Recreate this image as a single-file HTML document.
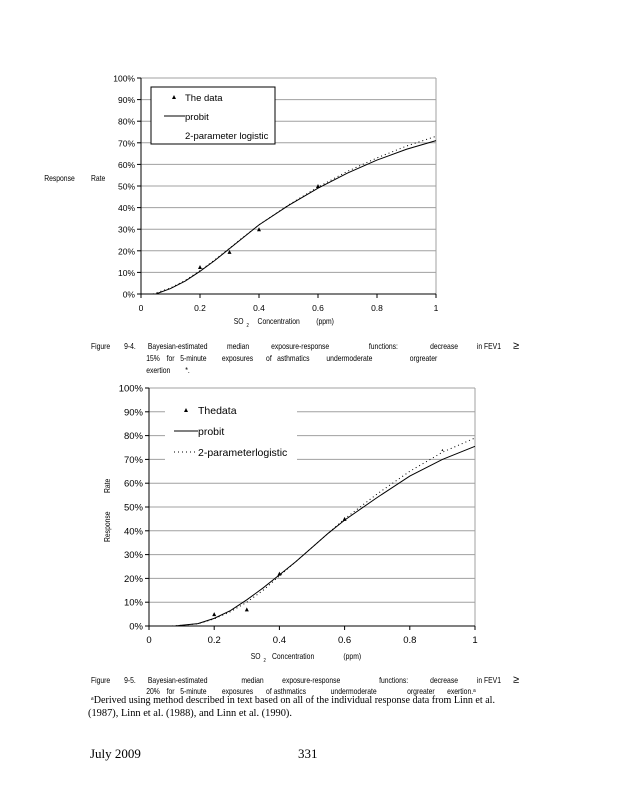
<!DOCTYPE html>
<html><head><meta charset="utf-8"><style>
html,body{margin:0;padding:0;background:#fff;}
svg{display:block;font-family:"Liberation Sans",sans-serif;}
.cap{font-size:8px;font-family:"Liberation Sans",sans-serif;}
.ser{font-family:"Liberation Serif",serif;}
</style></head><body>
<svg id="s" width="618" height="800" viewBox="0 0 618 800" xmlns="http://www.w3.org/2000/svg">
<g class="cap" transform="scale(0.85,1)">
<text x="107" y="349">Figure</text><text x="146" y="349">9-4.</text><text x="174" y="349">Bayesian-estimated</text><text x="267" y="349">median</text><text x="319" y="349">exposure-response</text><text x="434" y="349">functions:</text><text x="506" y="349">decrease</text><text x="561" y="349">in FEV1</text>
<text x="172" y="361">15%</text><text x="196" y="361">for</text><text x="212" y="361">5-minute</text><text x="261" y="361">exposures</text><text x="313" y="361">of</text><text x="326" y="361">asthmatics</text><text x="384" y="361">undermoderate</text><text x="482" y="361">orgreater</text>
<text x="172" y="373">exertion</text><text x="218" y="373">*.</text>
</g>
<text x="513" y="349" font-size="11">≥</text>
<g class="cap" transform="scale(0.85,1)">
<text x="107" y="683">Figure</text><text x="146" y="683">9-5.</text><text x="174" y="683">Bayesian-estimated</text><text x="284" y="683">median</text><text x="332" y="683">exposure-response</text><text x="446" y="683">functions:</text><text x="506" y="683">decrease</text><text x="561" y="683">in FEV1</text>
<text x="172" y="694">20%</text><text x="196" y="694">for</text><text x="212" y="694">5-minute</text><text x="261" y="694">exposures</text><text x="313" y="694">of asthmatics</text><text x="389" y="694">undermoderate</text><text x="479" y="694">orgreater</text><text x="526" y="694">exertion.ᵃ</text>
</g>
<text x="513" y="683" font-size="11">≥</text>
<text class="ser" x="91" y="703" font-size="11" textLength="404" lengthAdjust="spacingAndGlyphs">ᵃDerived using method described in text based on all of the individual response data from Linn et al.</text>
<text class="ser" x="88" y="716" font-size="11" textLength="204" lengthAdjust="spacingAndGlyphs">(1987), Linn et al. (1988), and Linn et al. (1990).</text>
<text class="ser" x="90" y="758" font-size="13">July 2009</text>
<text class="ser" x="298" y="758" font-size="13">331</text>
<g class="cap" transform="scale(0.85,1)">
<text x="52" y="181">Response</text><text x="107" y="181">Rate</text>
<text x="275" y="324">SO</text><text x="290" y="327" font-size="5">2</text><text x="303" y="324">Concentration</text><text x="372" y="324">(ppm)</text>
<text x="295" y="659">SO</text><text x="310" y="662" font-size="5">2</text><text x="320" y="659">Concentration</text><text x="404" y="659">(ppm)</text>
</g>
<text class="cap" transform="translate(110,542) rotate(-90) scale(0.85,1)">Response</text>
<text class="cap" transform="translate(110,493) rotate(-90) scale(0.85,1)">Rate</text>
<g id="c1"></g><g id="c2"></g>
</svg>
<script>
var NS="http://www.w3.org/2000/svg";
function el(p,t,a,txt){var e=document.createElementNS(NS,t);for(var k in a)e.setAttribute(k,a[k]);if(txt!=null)e.textContent=txt;p.appendChild(e);return e;}
function chart(g,x0,x1,y0,y1,probit,logi,data,legend,box,fs,L){
  var X=function(c){return x0+c*(x1-x0)},Y=function(v){return y0-(y0-y1)*v/100};
  for(var i=1;i<=10;i++)el(g,"line",{x1:x0,x2:x1,y1:Y(i*10),y2:Y(i*10),stroke:"#a0a0a0","stroke-width":1});
  el(g,"line",{x1:x1,x2:x1,y1:y1,y2:y0,stroke:"#a0a0a0"});
  el(g,"line",{x1:x0,x2:x1,y1:y0,y2:y0,stroke:"#000"});
  el(g,"line",{x1:x0,x2:x0,y1:y1,y2:y0,stroke:"#000"});
  for(var i=0;i<=10;i++){el(g,"line",{x1:x0-4,x2:x0,y1:Y(i*10),y2:Y(i*10),stroke:"#000"});
    el(g,"text",{x:x0-6,y:Y(i*10)+3.5,"text-anchor":"end","font-size":fs},i*10+"%");}
  for(var i=0;i<=5;i++){var xx=X(i*0.2);el(g,"line",{x1:xx,x2:xx,y1:y0,y2:y0+4,stroke:"#000"});
    el(g,"text",{x:xx,y:y0+17,"text-anchor":"middle","font-size":fs},i==0?"0":i==5?"1":(i*0.2).toFixed(1));}
  function pl(pts,d){el(g,"polyline",{points:pts.map(function(p){return X(p[0])+","+Y(p[1])}).join(" "),fill:"none",stroke:"#000","stroke-width":1,"stroke-dasharray":d?"1,3":"none"});}
  pl(logi,true);pl(probit,false);
  data.forEach(function(p){var x=X(p[0]),y=Y(p[1]),s=p[2]||2;el(g,"polygon",{points:(x-s)+","+(y+s)+" "+(x+s)+","+(y+s)+" "+x+","+(y-s)});});
  el(g,"rect",{x:box[0],y:box[1],width:box[2],height:box[3],fill:"#fff",stroke:box[4]?"#000":"none"});
  el(g,"polygon",{points:(L[0]-2)+","+(L[1]+2)+" "+(L[0]+2)+","+(L[1]+2)+" "+L[0]+","+(L[1]-2)});
  el(g,"text",{x:L[2],y:L[1]+4,"font-size":fs+1},legend[0]);
  el(g,"line",{x1:L[3],x2:L[2],y1:L[1]+L[4],y2:L[1]+L[4],stroke:"#000"});
  el(g,"text",{x:L[2],y:L[1]+L[4]+4,"font-size":fs+1},"probit");
  if(L[5])el(g,"line",{x1:L[3],x2:L[2],y1:L[1]+2*L[4],y2:L[1]+2*L[4],stroke:"#000","stroke-dasharray":"1,3"});
  el(g,"text",{x:L[2],y:L[1]+2*L[4]+4,"font-size":fs+1},legend[1]);
}
chart(document.getElementById("c1"),141,436,294,78,
 [[0.05,0],[0.1,2.5],[0.15,6],[0.2,10.5],[0.25,15.5],[0.3,21],[0.35,26.5],[0.4,32],[0.5,41],[0.6,49],[0.7,56],[0.8,62],[0.9,67],[1,71]],
 [[0.04,0],[0.1,2.8],[0.15,6.3],[0.2,10.8],[0.25,15.8],[0.3,21.2],[0.35,26.7],[0.4,32],[0.5,41.2],[0.6,49.5],[0.7,56.8],[0.8,63],[0.9,68.5],[1,73]],
 [[0.2,12.5],[0.3,19.5],[0.4,30],[0.6,50]],
 ["The data","2-parameter logistic"],[151,87,124,57,true],8.5,[174,97,185,164,19,false]);
chart(document.getElementById("c2"),149,475,626,388,
 [[0.08,0],[0.1,0.3],[0.15,1],[0.2,3.2],[0.25,6.5],[0.3,11],[0.35,16],[0.4,21.5],[0.45,27],[0.5,33],[0.55,39],[0.6,44.5],[0.7,54],[0.8,63],[0.9,70],[1,75.5]],
 [[0.07,0],[0.1,0.3],[0.15,0.9],[0.2,3],[0.25,6],[0.3,10],[0.35,15],[0.4,21],[0.45,27],[0.5,33],[0.55,39],[0.6,45],[0.7,55.5],[0.8,65],[0.9,73],[1,79]],
 [[0.2,5],[0.3,7],[0.4,22],[0.6,45],[0.9,74,1]],
 ["Thedata","2-parameterlogistic"],[165,400,132,62,false],9.5,[186,410,198,174,21,true]);
</script>
</body></html>
